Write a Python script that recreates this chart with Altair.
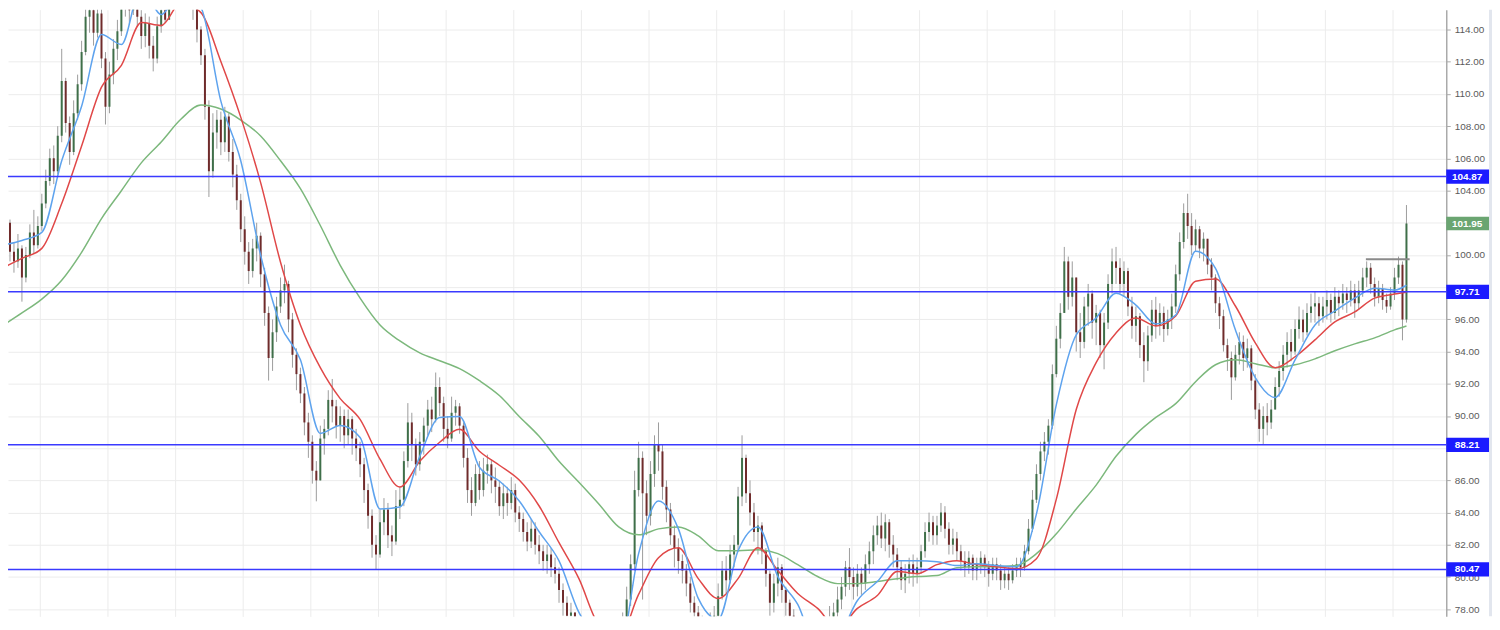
import altair as alt
import pandas as pd

# ---- candle data (one bar per session) ----
close = [
    101.2, 102.0, 100.2, 99.6, 100.4, 98.6, 100.0, 101.4, 100.6, 101.8,
    103.2, 104.6, 106.0, 105.2, 107.4, 110.8, 108.2, 106.4, 108.8, 110.6,
    112.6, 114.8, 115.2, 113.8, 115.0, 112.2, 109.2, 111.2, 112.8, 113.9,
    115.4, 116.0, 115.2, 116.2, 114.8, 113.6, 114.4, 113.0, 112.2, 114.2,
    115.2, 114.6, 115.8, 116.8, 117.4, 117.0, 117.6, 116.9, 115.4, 114.0,
    112.4, 109.2, 105.2, 107.6, 108.4, 107.0, 108.6, 106.4, 105.0, 103.4,
    101.6, 100.2, 99.0, 100.4, 101.2, 98.8, 96.4, 93.6, 95.2, 96.8,
    97.8, 98.2, 96.0, 93.8, 92.6, 91.4, 89.6, 88.4, 86.6, 86.0,
    88.6, 89.2, 91.0, 90.6, 89.4, 90.0, 88.8, 89.8, 88.6, 88.0,
    87.0, 85.4, 83.8, 82.0, 81.4, 83.4, 84.2, 82.6, 82.2, 84.4,
    84.8, 87.2, 89.6, 88.2, 87.0, 88.4, 89.4, 90.4, 89.8, 91.8,
    90.8, 89.2, 88.6, 90.2, 90.6, 89.4, 87.4, 85.4, 84.6, 86.4,
    85.4, 86.6, 87.0, 86.0, 85.6, 84.4, 85.2, 84.6, 85.4, 84.0,
    83.6, 82.8, 82.2, 83.0, 82.0, 81.6, 81.0, 81.4, 80.6, 80.2,
    79.2, 78.4, 77.6, 77.8, 76.8, 76.2, 75.6, 75.8, 75.0, 74.6,
    75.2, 74.6, 75.0, 74.4, 75.2, 76.4, 77.2, 78.6, 80.8, 85.4,
    87.4, 85.2, 83.8, 86.4, 88.2, 87.8, 85.6, 84.2, 82.6, 81.8,
    81.0, 80.4, 79.6, 78.4, 77.8, 77.2, 76.8, 76.2, 76.6, 77.6,
    78.8, 80.4, 79.8, 81.4, 82.0, 85.0, 87.4, 85.2, 84.0, 82.8,
    83.2, 81.6, 80.2, 78.4, 79.6, 80.6, 79.2, 78.4, 77.6, 77.0,
    76.4, 75.8, 76.0, 75.4, 75.8, 75.2, 75.6, 76.4, 77.4, 77.8,
    78.6, 79.4, 80.6, 80.0, 79.4, 80.2, 79.6, 80.8, 81.6, 82.6,
    83.2, 82.4, 83.4, 82.0, 81.4, 80.6, 79.8, 80.2, 80.8, 80.2,
    80.6, 81.6, 82.8, 83.4, 82.6, 83.2, 84.0, 83.0, 82.0, 82.4,
    81.6, 81.0, 80.6, 81.2, 80.4, 80.8, 81.2, 80.6, 80.2, 80.8,
    80.4, 79.8, 80.2, 79.8, 80.4, 80.8, 80.6, 81.6, 83.0, 84.8,
    86.4, 87.8, 88.4, 89.4, 92.6, 94.8, 96.4, 99.6, 97.4, 98.6,
    95.2, 94.6, 96.8, 97.6, 95.8, 96.4, 94.4, 95.8, 98.2, 99.6,
    99.2, 98.2, 99.0, 96.8, 95.6, 96.2, 94.4, 93.4, 95.0, 96.6,
    95.6, 96.4, 95.4, 96.0, 96.8, 98.8, 100.8, 102.6, 101.8, 100.6,
    101.6, 100.4, 101.0, 99.4, 98.6, 97.0, 96.2, 94.4, 93.6, 92.4,
    93.8, 94.6, 93.6, 94.2, 92.2, 90.4, 89.2, 90.0, 89.6, 90.4,
    91.8, 92.8, 93.8, 94.6, 94.0, 95.4, 96.0, 95.2, 96.4, 96.8,
    97.0, 96.2, 96.8, 97.2, 96.4, 97.4, 97.0, 97.6, 97.2, 97.8,
    97.0, 97.8, 98.6, 99.2, 98.2, 97.4, 97.9, 97.2, 96.8, 97.6,
    98.6, 99.4, 96.0, 101.95,
]
high = [
    102.6, 104.8, 102.2, 100.8, 101.3, 100.6, 100.5, 101.9, 102.8, 102.4,
    103.8, 105.3, 106.6, 106.8, 108.0, 112.8, 111.0, 108.6, 109.6, 111.2,
    113.3, 115.6, 116.4, 115.4, 116.8, 115.4, 112.6, 112.0, 113.4, 114.6,
    116.5, 117.2, 116.6, 117.0, 116.6, 115.2, 115.0, 114.8, 113.6, 114.8,
    116.0, 115.8, 116.6, 117.6, 118.2, 118.0, 118.4, 117.8, 117.0, 115.6,
    114.2, 112.8, 109.6, 108.8, 109.0, 108.9, 109.2, 108.8, 107.2, 105.6,
    103.8, 102.4, 100.8, 101.0, 102.0, 101.4, 99.2, 96.8, 96.0, 97.4,
    98.6, 99.4, 98.4, 96.4, 94.2, 93.0, 91.8, 90.2, 88.8, 87.2,
    89.4, 89.8, 91.6, 92.3, 91.0, 90.6, 90.4, 90.4, 90.0, 89.2,
    88.4, 87.4, 85.8, 84.2, 82.6, 84.2, 84.9, 84.6, 83.2, 85.4,
    85.6, 87.8, 90.8, 90.2, 88.6, 89.0, 89.9, 91.0, 91.2, 92.7,
    92.4, 91.2, 90.0, 91.2, 91.0, 90.8, 89.6, 88.0, 86.2, 87.0,
    87.2, 87.4, 87.6, 87.3, 86.8, 86.0, 85.8, 85.6, 86.2, 85.8,
    84.4, 84.0, 83.4, 83.6, 83.4, 82.6, 82.0, 82.0, 81.8, 81.2,
    80.6, 79.6, 78.8, 78.4, 77.6, 77.2, 76.6, 76.4, 76.2, 75.6,
    76.0, 75.6, 75.8, 75.4, 75.8, 77.0, 77.8, 79.4, 81.4, 86.6,
    88.4, 87.8, 86.0, 87.2, 88.8, 89.6, 88.2, 86.0, 84.6, 83.2,
    82.4, 81.4, 80.8, 80.0, 78.8, 78.2, 77.6, 77.2, 77.8, 78.2,
    79.6, 81.0, 81.3, 82.0, 82.6, 85.6, 88.8, 87.6, 86.0, 84.6,
    83.8, 83.4, 81.8, 80.4, 80.2, 81.2, 80.8, 79.4, 78.6, 78.0,
    77.4, 76.8, 76.6, 76.4, 76.4, 76.2, 76.4, 77.0, 78.2, 78.4,
    79.4, 80.0, 81.0, 81.8, 80.6, 80.8, 80.6, 81.4, 82.2, 83.2,
    83.8, 84.0, 83.9, 83.6, 82.6, 81.8, 81.0, 80.8, 81.2, 81.4,
    81.2, 82.0, 83.4, 84.0, 83.8, 83.8, 84.6, 84.4, 83.4, 83.0,
    82.8, 82.0, 81.6, 81.6, 81.4, 81.2, 81.6, 81.4, 81.0, 81.2,
    81.2, 80.8, 80.6, 80.6, 80.8, 81.2, 81.2, 82.0, 83.6, 85.4,
    87.0, 88.4, 89.0, 89.8, 93.2, 95.6, 97.0, 100.5, 99.9, 99.6,
    98.0, 96.4, 97.4, 98.2, 97.8, 96.9, 96.6, 96.4, 98.8, 100.4,
    100.5, 99.8, 99.6, 99.2, 97.4, 96.8, 96.4, 95.2, 95.6, 97.2,
    97.4, 97.0, 96.8, 96.6, 97.6, 99.4, 101.4, 103.2, 103.8, 102.6,
    102.2, 101.8, 101.4, 101.0, 99.8, 98.8, 97.4, 96.6, 94.8, 94.0,
    94.4, 95.2, 95.0, 94.8, 94.4, 92.6, 90.8, 90.6, 90.8, 91.0,
    92.4, 93.4, 94.4, 95.2, 95.4, 96.0, 96.8, 96.6, 97.0, 97.6,
    97.7, 97.4, 97.4, 97.8, 97.6, 98.0, 97.8, 98.2, 98.0, 98.4,
    98.2, 98.4, 99.2, 99.6, 99.5, 98.6, 98.4, 98.2, 97.6, 98.0,
    99.2, 99.9, 99.6, 103.1,
]
low = [
    100.4, 101.0, 99.6, 98.9, 99.2, 97.1, 98.3, 99.8, 100.1, 100.4,
    101.5, 102.9, 104.3, 104.4, 105.0, 107.0, 107.6, 105.6, 106.2, 108.4,
    110.2, 112.4, 113.8, 113.0, 113.5, 111.6, 108.1, 108.8, 110.6, 112.1,
    113.6, 114.8, 114.3, 114.9, 114.2, 112.8, 112.9, 112.2, 111.4, 111.9,
    113.8, 114.4, 114.6, 115.8, 116.2, 116.1, 116.3, 116.0, 114.6, 113.2,
    111.8, 108.4, 103.6, 104.8, 106.6, 106.2, 106.4, 105.8, 104.2, 102.8,
    100.8, 99.4, 98.2, 98.6, 99.6, 98.0, 95.6, 92.2, 92.8, 94.6,
    96.4, 97.0, 95.2, 93.0, 91.6, 90.8, 88.8, 87.4, 85.8, 84.7,
    86.0, 87.6, 88.8, 89.6, 88.6, 88.4, 88.0, 88.2, 87.6, 87.2,
    86.2, 84.6, 83.0, 81.2, 80.5, 81.2, 82.6, 81.8, 81.3, 82.0,
    83.6, 84.4, 86.8, 87.2, 86.3, 86.6, 87.6, 88.8, 89.0, 89.6,
    90.0, 88.4, 88.0, 88.4, 89.4, 88.9, 86.8, 84.6, 83.8, 84.4,
    84.8, 85.0, 85.8, 85.2, 84.6, 83.8, 83.6, 83.8, 84.2, 83.4,
    82.8, 82.2, 81.6, 81.8, 81.4, 80.8, 80.4, 80.2, 80.0, 79.6,
    78.4, 77.6, 76.8, 76.6, 76.0, 75.4, 74.8, 74.6, 74.2, 73.8,
    74.2, 73.8, 74.0, 73.6, 74.2, 75.0, 76.0, 76.8, 78.2, 80.4,
    85.0, 78.6, 82.6, 83.2, 85.6, 86.6, 84.8, 83.4, 82.0, 80.6,
    80.2, 79.6, 78.8, 77.8, 77.0, 76.4, 76.0, 75.6, 75.8, 76.2,
    77.4, 78.6, 79.0, 79.6, 80.6, 81.6, 84.4, 84.6, 83.2, 82.2,
    81.4, 80.8, 79.4, 77.6, 77.8, 78.8, 78.4, 77.6, 76.8, 76.4,
    75.6, 75.0, 75.2, 74.6, 74.8, 74.4, 74.8, 75.2, 76.2, 76.8,
    77.2, 78.0, 78.8, 79.2, 78.6, 78.8, 78.9, 79.2, 80.2, 80.8,
    82.0, 81.8, 81.6, 81.2, 80.6, 79.8, 79.2, 79.0, 79.6, 79.4,
    79.6, 80.2, 81.2, 82.2, 82.0, 82.0, 82.8, 82.4, 81.4, 81.4,
    81.0, 80.4, 80.0, 80.2, 79.8, 79.8, 80.2, 80.0, 79.4, 79.8,
    79.8, 79.2, 79.3, 79.2, 79.6, 80.0, 80.0, 80.4, 81.4, 82.8,
    84.6, 86.0, 87.2, 87.6, 89.2, 92.4, 94.2, 96.6, 96.6, 96.8,
    94.0, 93.6, 94.2, 95.6, 94.8, 94.4, 93.6, 92.9, 95.4, 97.6,
    98.2, 97.6, 97.4, 96.2, 94.8, 94.6, 93.6, 92.1, 92.8, 94.6,
    94.8, 95.0, 94.6, 95.0, 95.4, 96.4, 98.4, 100.4, 101.0, 100.0,
    100.2, 99.8, 99.6, 98.8, 97.8, 96.4, 95.4, 94.0, 92.8, 91.0,
    92.2, 93.2, 92.8, 93.0, 91.6, 89.8, 88.4, 88.2, 88.8, 89.2,
    90.4, 91.2, 92.2, 93.0, 93.4, 93.8, 94.8, 94.6, 95.0, 95.8,
    95.8, 95.6, 95.8, 96.0, 95.8, 96.0, 96.2, 96.6, 96.4, 96.8,
    96.1, 96.6, 97.4, 98.0, 97.6, 96.8, 97.0, 96.6, 96.4, 96.6,
    97.2, 98.2, 94.7, 95.8,
]

# ---- moving averages, read every 5th bar ----
ma_bar = list(range(0, 351, 5)) + [353]
ma_fast = [
    100.60, 100.90, 101.40, 105.85, 109.24, 113.69, 113.07, 116.66, 114.93, 116.35,
    115.36, 109.55, 105.85, 99.98, 95.65, 93.49, 88.92, 89.41, 88.67, 84.23,
    84.35, 87.50, 89.91, 89.97, 86.82, 85.96, 84.72, 82.81, 81.00, 77.80,
    76.20, 75.27, 81.45, 84.72, 82.99, 78.67, 77.37, 81.63, 83.11, 80.03,
    78.30, 75.58, 76.20, 78.54, 79.72, 81.01, 81.01, 80.95, 80.71, 80.83,
    80.71, 80.64, 83.92, 90.71, 95.04, 96.09, 97.63, 96.89, 95.72, 96.27,
    100.23, 99.17, 95.35, 92.38, 91.15, 93.49, 95.65, 96.52, 97.32, 97.94,
    97.82, 98.12,
]
ma_mid = [
    99.17, 99.79, 100.41, 103.19, 106.77, 110.42, 111.78, 114.43, 114.25, 115.67,
    115.05, 112.02, 108.56, 104.49, 99.55, 95.65, 93.00, 91.08, 89.79, 87.32,
    85.59, 87.19, 88.37, 89.17, 87.81, 86.94, 86.02, 84.41, 82.13, 79.90,
    77.00, 76.20, 78.92, 81.20, 81.82, 79.90, 78.67, 79.90, 81.82, 80.40,
    78.98, 78.05, 76.82, 78.05, 78.85, 80.34, 80.21, 80.77, 81.01, 80.77,
    80.64, 80.52, 81.14, 84.84, 90.40, 93.31, 95.16, 96.09, 95.59, 96.21,
    98.37, 98.50, 96.83, 94.54, 93.00, 93.68, 94.73, 95.84, 96.46, 97.32,
    97.57, 97.69,
]
ma_slow = [
    95.59, 96.40, 97.26, 98.43, 100.16, 102.26, 103.99, 105.72, 107.02, 108.44,
    109.31, 109.06, 108.38, 107.39, 105.85, 104.12, 101.83, 99.36, 97.32, 95.65,
    94.66, 93.92, 93.43, 92.94, 92.19, 91.27, 89.97, 88.74, 87.19, 85.89,
    84.54, 83.11, 82.62, 82.99, 83.11, 82.56, 81.63, 81.63, 81.69, 81.45,
    80.77, 80.03, 79.59, 79.59, 79.72, 79.90, 80.03, 80.09, 80.58, 80.64,
    80.64, 80.71, 81.45, 82.68, 84.23, 85.71, 87.50, 88.86, 89.91, 90.77,
    92.13, 93.18, 93.49, 93.25, 93.00, 93.18, 93.55, 94.05, 94.48, 94.85,
    95.35, 95.59,
]

# ---- drawings ----
levels = [104.87, 97.71, 88.21, 80.47]
level_labels = ["104.87", "97.71", "88.21", "80.47"]
last_price = [101.95]
last_label = ["101.95"]
resist_price = [99.73]
resist_from = [342.8]
resist_to = [353.8]
y_ticks = [78, 80, 82, 84, 86, 88, 90, 92, 94, 96, 98, 100, 102, 104, 106, 108, 110, 112, 114]
hidden_tick_labels = [98, 88]  # covered by the price-level tags

# ---- layout ----
W, H = 1446, 610
x_dom = [1.5, 363.0]
y_dom = [77.557, 115.235]
x_grid = [9.5 + 17 * k for k in range(21)]

opens = [close[0]] + close[:-1]
hi = [max(h, o, c) for h, o, c in zip(high, opens, close)]
lo = [min(l, o, c) for l, o, c in zip(low, opens, close)]
candles = pd.DataFrame({
    "bar": list(range(len(close))), "open": opens, "close": close, "high": hi, "low": lo,
})
candles["dir"] = ["up" if c >= o else "down" for o, c in zip(opens, close)]

hide_expr = " || ".join(f"datum.value == {v}" for v in hidden_tick_labels)
xs = alt.Scale(domain=x_dom, nice=False, zero=False)
ys = alt.Scale(domain=y_dom, nice=False, zero=False)
xaxis = alt.Axis(values=x_grid, labels=False, ticks=False, domain=False, grid=True,
                 gridColor="#ececec", gridWidth=1, title=None)
yaxis = alt.Axis(orient="right", values=y_ticks, format=".2f", labelColor="#5a5a5a",
                 labelExpr=f"({hide_expr}) ? '' : format(datum.value, '.2f')",
                 labelFont="Liberation Sans", labelFontSize=10, tickColor="#aaaaaa",
                 tickSize=4, labelPadding=4, domainColor="#aaaaaa", domainWidth=1.5,
                 grid=True, gridColor="#ececec", gridWidth=1, title=None)


def X(f):
    return alt.X(f, scale=xs, axis=xaxis)


def Y(f):
    return alt.Y(f, scale=ys, axis=yaxis)


base = alt.Chart(candles)
wicks = base.mark_rule(color="#9c9c9c", strokeWidth=1, clip=True).encode(
    x=X("bar:Q"), y=Y("low:Q"), y2="high:Q")
up = base.transform_filter("datum.dir == 'up'").mark_rule(
    color="#3f6f49", strokeWidth=2, clip=True).encode(x=X("bar:Q"), y=Y("open:Q"), y2="close:Q")
down = base.transform_filter("datum.dir == 'down'").mark_rule(
    color="#6f2b2b", strokeWidth=2, clip=True).encode(x=X("bar:Q"), y=Y("open:Q"), y2="close:Q")


def ma_layer(vals, color):
    df = pd.DataFrame({"bar": ma_bar, "value": vals})
    return alt.Chart(df).mark_line(color=color, strokeWidth=1.5, clip=True,
                                   interpolate="monotone").encode(x=X("bar:Q"), y=Y("value:Q"))


slow = ma_layer(ma_slow, "#7cb87c")
mid = ma_layer(ma_mid, "#e04848")
fast = ma_layer(ma_fast, "#5ea3ee")

lv = pd.DataFrame({"price": levels, "label": level_labels})
level_lines = alt.Chart(lv).mark_rule(color="#3a3aff", strokeWidth=1.5, clip=True).encode(
    y=Y("price:Q"))

rs = pd.DataFrame({"start": resist_from, "end": resist_to, "price": resist_price})
resist = alt.Chart(rs).mark_rule(color="#8a8a8a", strokeWidth=2, clip=True).encode(
    x=X("start:Q"), x2="end:Q", y=Y("price:Q"))

level_boxes = alt.Chart(lv).transform_calculate(
    top="datum.price + 0.44", bot="datum.price - 0.44"
).mark_rect(color="#1b1bff").encode(
    x=alt.value(W), x2=alt.value(W + 43), y=Y("top:Q"), y2="bot:Q")
level_text = alt.Chart(lv).mark_text(color="white", fontWeight="bold", fontSize=10,
                                     font="Liberation Sans", align="center",
                                     baseline="middle").encode(
    x=alt.value(W + 21), y=Y("price:Q"), text="label:N")

lp = pd.DataFrame({"price": last_price, "label": last_label})
last_box = alt.Chart(lp).transform_calculate(
    top="datum.price + 0.42", bot="datum.price - 0.42"
).mark_rect(color="#6aa571").encode(
    x=alt.value(W), x2=alt.value(W + 43), y=Y("top:Q"), y2="bot:Q")
last_text = alt.Chart(lp).mark_text(color="white", fontWeight="bold", fontSize=10,
                                    font="Liberation Sans", align="center",
                                    baseline="middle").encode(
    x=alt.value(W + 21), y=Y("price:Q"), text="label:N")

# pale frame strip at the far right edge
edge = alt.Chart(lp).mark_rect(color="#e2e6ee").encode(
    x=alt.value(W + 43), x2=alt.value(W + 46), y=alt.value(0), y2=alt.value(H))

chart = alt.layer(
    wicks, up, down, slow, mid, fast, level_lines, resist,
    edge, level_boxes, level_text, last_box, last_text,
).properties(
    width=W, height=H,
    autosize=alt.AutoSizeParams(type="none"),
    padding={"left": 0, "top": 0, "right": 46, "bottom": 0},
    background="white",
).configure_view(strokeWidth=0)

chart.save("out.html", embed_options={"renderer": "svg", "actions": False})
